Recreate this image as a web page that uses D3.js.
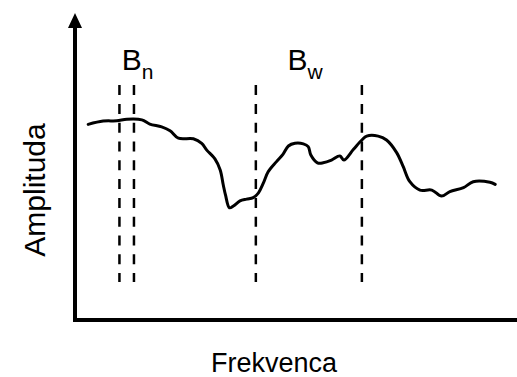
<!DOCTYPE html>
<html>
<head>
<meta charset="utf-8">
<script src="https://cdn.jsdelivr.net/npm/d3@7"></script>
<style>
  html, body { margin: 0; padding: 0; background: #fff; }
  svg { display: block; }
  text { font-family: "Liberation Sans", Arial, Helvetica, sans-serif; fill: #000; }
</style>
</head>
<body>
<svg id="chart" width="517" height="377"></svg>
<script>
// Frequency (arbitrary units, 0-100) of the traced spectrum
const freq = [3.0, 6.4, 9.5, 11.8, 15.2, 17.0, 19.7, 21.6, 23.5, 26.9, 28.8, 29.9, 31.8, 33.0, 33.7, 34.2, 35.1, 36.0, 37.5, 39.0, 40.5, 41.7, 42.8, 43.9, 45.8, 47.3, 48.5, 50.0, 51.9, 53.0, 53.6, 55.1, 56.4, 58.3, 60.2, 61.1, 63.3, 65.2, 66.3, 68.9, 70.8, 73.1, 74.6, 76.1, 78.4, 81.1, 83.3, 85.2, 88.3, 90.5, 94.3, 95.5];
// Amplitude (arbitrary units, 0-100)
const amplitude = [65.2, 66.3, 66.4, 66.9, 66.7, 65.3, 64.4, 63.1, 60.6, 60.4, 58.9, 56.7, 53.7, 50.0, 45.0, 41.7, 37.4, 38.0, 39.7, 40.3, 40.8, 42.4, 45.6, 49.4, 52.8, 55.3, 58.0, 58.9, 58.7, 57.8, 55.0, 52.4, 52.4, 53.3, 54.7, 53.3, 56.9, 60.0, 61.3, 61.3, 60.0, 55.8, 51.1, 46.1, 43.3, 43.3, 41.3, 42.8, 44.1, 46.1, 45.9, 45.2];
// Band edges (dashed markers)
const bandEdges = [10.1, 13.4, 41.1, 65.2];
const markerTop = 78.3;
const markerBottom = 12.7;
// Band labels
const bandLabels = [
  { base: "B", sub: "n", x: 10.6 },
  { base: "B", sub: "w", x: 48.3 }
];
const labelLevel = 83.3;
const xTitle = "Frekvenca";
const yTitle = "Amplituda";

const svg = d3.select("#chart");
const x = d3.scaleLinear().domain([0, 100]).range([75, 515]);
const y = d3.scaleLinear().domain([0, 100]).range([320, 20]);

// Axes (plain lines, no ticks)
svg.append("line")
  .attr("x1", x(0)).attr("x2", 517)
  .attr("y1", y(0)).attr("y2", y(0))
  .attr("stroke", "#000").attr("stroke-width", 4);
svg.append("line")
  .attr("x1", x(0)).attr("x2", x(0))
  .attr("y1", y(0) + 2).attr("y2", 26)
  .attr("stroke", "#000").attr("stroke-width", 4);
// arrow head
svg.append("path")
  .attr("d", `M${x(0)},13 L${x(0) - 7},28 L${x(0) + 7},28 Z`)
  .attr("fill", "#000");

// Dashed band markers
svg.selectAll("line.marker").data(bandEdges).join("line")
  .attr("class", "marker")
  .attr("x1", d => x(d)).attr("x2", d => x(d))
  .attr("y1", y(markerTop)).attr("y2", y(markerBottom))
  .attr("stroke", "#000").attr("stroke-width", 2.5)
  .attr("stroke-dasharray", "10,8.8");

// Spectrum line
const pts = freq.map((f, i) => [f, amplitude[i]]);
svg.append("path")
  .datum(pts)
  .attr("d", d3.line().x(d => x(d[0])).y(d => y(d[1])).curve(d3.curveCatmullRom.alpha(0.5)))
  .attr("fill", "none").attr("stroke", "#000").attr("stroke-width", 3)
  .attr("stroke-linejoin", "round").attr("stroke-linecap", "round");

// Band labels
bandLabels.forEach(b => {
  const t = svg.append("text")
    .attr("x", x(b.x)).attr("y", y(labelLevel))
    .attr("font-size", 30);
  t.append("tspan").text(b.base);
  t.append("tspan").attr("dy", 9).attr("font-size", 21).text(b.sub);
});

// Axis titles
svg.append("text")
  .attr("x", 211).attr("y", 372)
  .attr("font-size", 27)
  .text(xTitle);
svg.append("text")
  .attr("transform", "translate(45,190) rotate(-90)")
  .attr("text-anchor", "middle")
  .attr("font-size", 30)
  .text(yTitle);
</script>
</body>
</html>
